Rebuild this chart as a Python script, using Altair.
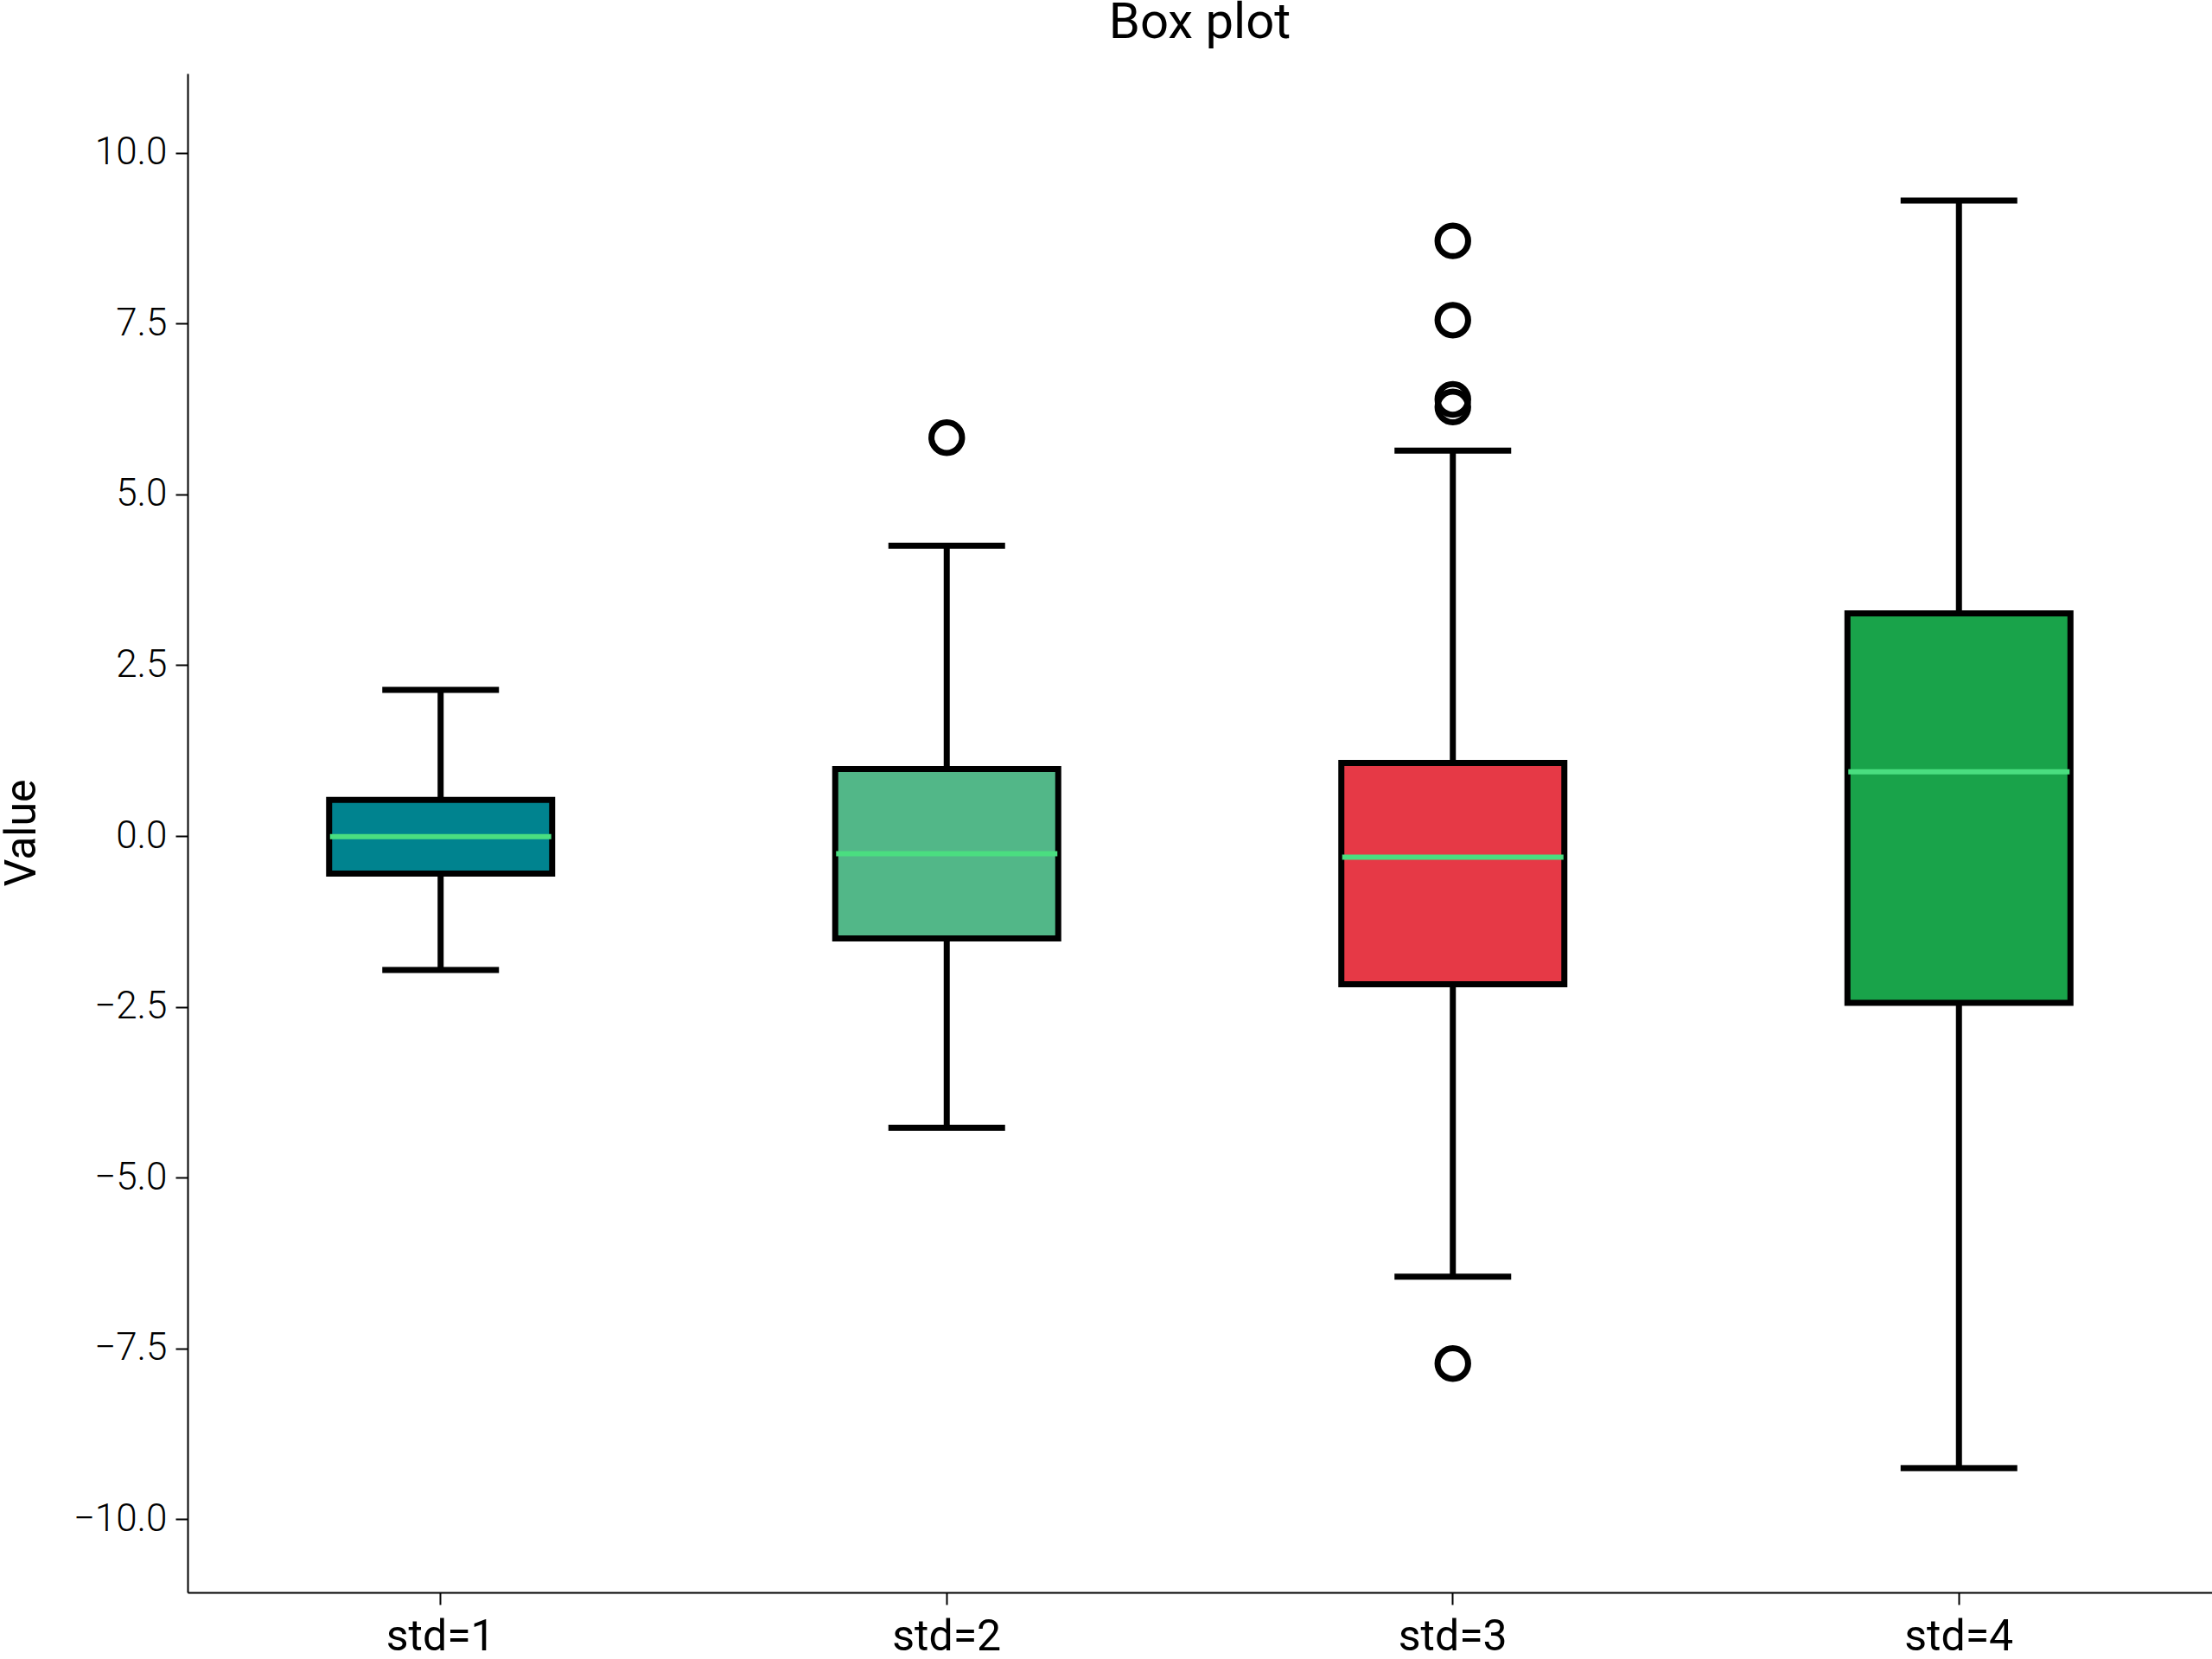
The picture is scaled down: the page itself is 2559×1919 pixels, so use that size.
import altair as alt
import pandas as pd

categories = ["std=1", "std=2", "std=3", "std=4"]
lower_whisker = [-1.96, -4.27, -6.45, -9.25]
q1 = [-0.55, -1.50, -2.17, -2.44]
median = [-0.01, -0.26, -0.31, 0.94]
q3 = [0.53, 0.98, 1.07, 3.26]
upper_whisker = [2.14, 4.25, 5.64, 9.30]
box_colors = ["#00838F", "#52B788", "#E63946", "#19A34A"]

outlier_category = ["std=2", "std=3", "std=3", "std=3", "std=3", "std=3"]
outlier_value = [5.83, 8.71, 7.55, 6.39, 6.28, -7.72]

stats = pd.DataFrame({
    "cat": categories,
    "lo": lower_whisker,
    "q1": q1,
    "med": median,
    "q3": q3,
    "hi": upper_whisker,
    "color": box_colors,
})
outliers = pd.DataFrame({"cat": outlier_category, "v": outlier_value})

FONT = "Roboto"
ydom = [-11.07, 11.16]
LW = 7

x_enc = alt.X(
    "cat:N",
    sort=categories,
    scale=alt.Scale(type="band", paddingInner=0, paddingOuter=0),
    axis=alt.Axis(
        title=None, labelAngle=0, bandPosition=0.5,
        labelFont=FONT, labelFontSize=50, labelColor="black",
        labelPadding=12, tickSize=14, tickWidth=2, tickColor="black",
        domainColor="black", domainWidth=2, grid=False,
    ),
)
y_scale = alt.Scale(domain=ydom, nice=False, zero=False)
y_axis = alt.Axis(
    title="Value",
    values=[-10, -7.5, -5, -2.5, 0, 2.5, 5, 7.5, 10],
    format=".1f",
    labelFont=FONT, labelFontSize=44, labelFontWeight=300, labelColor="black",
    labelPadding=10, tickSize=14, tickWidth=2, tickColor="black",
    domainColor="black", domainWidth=2, grid=False,
    titleFont=FONT, titleFontSize=50, titleFontWeight="normal", titleColor="black",
    titleAngle=-90, titleBaseline="alphabetic", titleAlign="center",
    titleX=-177, titleY=878,
)

base = alt.Chart(stats)

whisker = base.mark_rule(color="black", strokeWidth=LW, opacity=1).encode(
    x=x_enc,
    y=alt.Y("lo:Q", scale=y_scale, axis=y_axis),
    y2="hi:Q",
)
cap_hi = base.mark_tick(color="black", thickness=LW, size=135, orient="horizontal", opacity=1).encode(
    x=alt.X("cat:N", sort=categories), y=alt.Y("hi:Q")
)
cap_lo = base.mark_tick(color="black", thickness=LW, size=135, orient="horizontal", opacity=1).encode(
    x=alt.X("cat:N", sort=categories), y=alt.Y("lo:Q")
)
box = base.mark_bar(size=258, stroke="black", strokeWidth=LW, opacity=1).encode(
    x=alt.X("cat:N", sort=categories),
    y=alt.Y("q1:Q"),
    y2="q3:Q",
    fill=alt.Fill("color:N", scale=None, legend=None),
)
med = base.mark_tick(color="#4ADE80", thickness=6, size=256, orient="horizontal", opacity=1).encode(
    x=alt.X("cat:N", sort=categories), y=alt.Y("med:Q")
)
pts = alt.Chart(outliers).mark_point(
    shape="circle", filled=False, stroke="black", strokeWidth=LW, size=1250, opacity=1
).encode(
    x=alt.X("cat:N", sort=categories), y=alt.Y("v:Q")
)

chart = alt.layer(whisker, cap_hi, cap_lo, box, med, pts).properties(
    width=2342,
    height=1757,
    background="white",
    title=alt.TitleParams(
        "Box plot", font=FONT, fontSize=58, fontWeight="normal", color="black",
        anchor="middle", offset=29,
    ),
    autosize=alt.AutoSizeParams(type="none"),
    padding={"left": 217, "top": 85, "right": 0, "bottom": 77},
).configure_view(stroke="transparent", strokeOpacity=0)

chart.save("out.html", embed_options={"renderer": "svg", "actions": False})
